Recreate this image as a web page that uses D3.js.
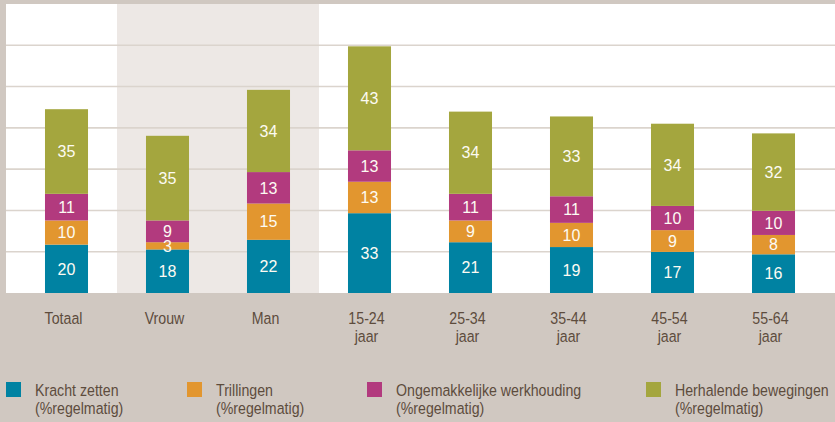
<!DOCTYPE html>
<html>
<head>
<meta charset="utf-8">
<script src="https://cdn.jsdelivr.net/npm/d3@7/dist/d3.min.js"></script>
<style>
  html, body { margin: 0; padding: 0; background: #d0c8c1; }
  svg { display: block; }
</style>
</head>
<body>
<svg id="chart" width="835" height="422"></svg>
<script>
// ---- data ----
const categories = ["Totaal", "Vrouw", "Man", "15-24 jaar", "25-34 jaar", "35-44 jaar", "45-54 jaar", "55-64 jaar"];
const categoryLines = [["Totaal"], ["Vrouw"], ["Man"], ["15-24", "jaar"], ["25-34", "jaar"], ["35-44", "jaar"], ["45-54", "jaar"], ["55-64", "jaar"]];
const seriesNames = ["Kracht zetten", "Trillingen", "Ongemakkelijke werkhouding", "Herhalende bewegingen"];
const legendSub = "(%regelmatig)";
const krachtZetten = [20, 18, 22, 33, 21, 19, 17, 16];
const trillingen = [10, 3, 15, 13, 9, 10, 9, 8];
const ongemakkelijk = [11, 9, 13, 13, 11, 11, 10, 10];
const herhalend = [35, 35, 34, 43, 34, 33, 34, 32];
const shadedCategories = ["Vrouw", "Man"];
const yMax = 119.5;
const gridCount = 7;

const colors = ["#0082a2", "#e2962f", "#b23a7e", "#a4a63e"];

// ---- layout ----
const svg = d3.select("#chart");
const W = 835, H = 422;
const plot = { left: 6, right: 835, top: 4, bottom: 293 };

svg.append("rect").attr("x", 0).attr("y", 0).attr("width", W).attr("height", H).attr("fill", "#d0c8c1");
svg.append("rect").attr("x", plot.left).attr("y", plot.top)
  .attr("width", plot.right - plot.left).attr("height", plot.bottom - plot.top).attr("fill", "#ffffff");

const x = d3.scaleBand().domain(categories).range([16, 824]).paddingInner(0.574).paddingOuter(0.287);
const y = d3.scaleLinear().domain([0, yMax]).range([plot.bottom, plot.top]);

// shaded region
const step = x.step();
const off = (step - x.bandwidth()) / 2;
const sx0 = x(shadedCategories[0]) - off;
const sx1 = x(shadedCategories[shadedCategories.length - 1]) + x.bandwidth() + off;
svg.append("rect").attr("x", sx0).attr("y", plot.top).attr("width", sx1 - sx0)
  .attr("height", plot.bottom - plot.top).attr("fill", "#ede8e5");

// gridlines
const gridVals = d3.range(1, gridCount).map(i => i * yMax / gridCount);
svg.append("g").selectAll("line").data(gridVals).join("line")
  .attr("x1", plot.left).attr("x2", plot.right)
  .attr("y1", d => y(d)).attr("y2", d => y(d))
  .attr("stroke", "#dbd4cd").attr("stroke-width", 1.6);

// stacked bars
const rows = categories.map((c, i) => ({ cat: c, s0: krachtZetten[i], s1: trillingen[i], s2: ongemakkelijk[i], s3: herhalend[i] }));
const stack = d3.stack().keys(["s0", "s1", "s2", "s3"])(rows);

const g = svg.append("g");
stack.forEach((layer, li) => {
  g.selectAll(null).data(layer).join("rect")
    .attr("x", d => x(d.data.cat))
    .attr("width", x.bandwidth())
    .attr("y", d => y(d[1]))
    .attr("height", d => y(d[0]) - y(d[1]))
    .attr("fill", colors[li]);
});
stack.forEach((layer, li) => {
  g.selectAll(null).data(layer).join("text")
    .attr("x", d => x(d.data.cat) + x.bandwidth() / 2)
    .attr("y", d => (y(d[0]) + y(d[1])) / 2)
    .attr("dy", "0.36em")
    .attr("text-anchor", "middle")
    .attr("fill", "#fdfbf3")
    .style("font-family", "'Liberation Sans', Arial, sans-serif")
    .style("font-size", "16px")
    .text(d => d[1] - d[0]);
});

// condensed text: Liberation Sans compressed horizontally
const labelFont = "'Liberation Sans', Arial, sans-serif";
const sx = 0.86;
const textColor = "#5d4c3d";

// x axis labels
const xl = svg.append("g").attr("transform", `scale(${sx},1)`);
categories.forEach((c, i) => {
  const cx = (x(c) + x.bandwidth() / 2 - 3) / sx;
  const t = xl.append("text")
    .attr("text-anchor", "middle")
    .attr("fill", textColor)
    .style("font-family", labelFont)
    .style("font-size", "16.5px");
  categoryLines[i].forEach((line, k) => {
    t.append("tspan").attr("x", cx).attr("y", 324 + k * 18).text(line);
  });
});

// legend
const legendX = [6, 187, 367, 646];
const leg = svg.append("g");
const legT = svg.append("g").attr("transform", `scale(${sx},1)`);
seriesNames.forEach((name, i) => {
  leg.append("rect").attr("x", legendX[i]).attr("y", 382).attr("width", 15).attr("height", 15).attr("fill", colors[i]);
  const t = legT.append("text").attr("fill", textColor)
    .style("font-family", labelFont).style("font-size", "16.5px");
  t.append("tspan").attr("x", (legendX[i] + 29) / sx).attr("y", 396.5).text(name);
  t.append("tspan").attr("x", (legendX[i] + 29) / sx).attr("y", 414).text(legendSub);
});
</script>
</body>
</html>
